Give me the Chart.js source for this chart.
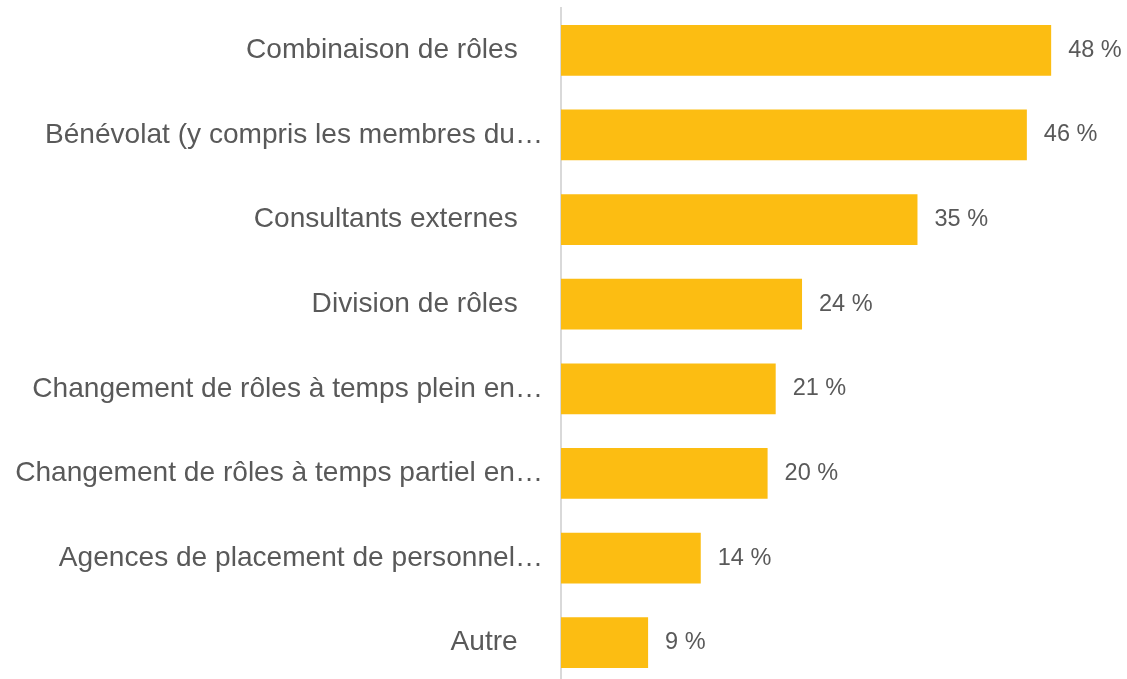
<!DOCTYPE html>
<html>
<head>
<meta charset="utf-8">
<script src="https://cdn.jsdelivr.net/npm/chart.js@4"></script>
<style>
  html, body { margin: 0; padding: 0; background: #ffffff; overflow: hidden; }
  #wrap { width: 1127px; height: 685px; position: relative; }
</style>
</head>
<body>
<div id="wrap"><canvas id="c"></canvas></div>
<script>
const categories = [
  "Combinaison de rôles\u2002\u2009\u2009",
  "Bénévolat (y compris les membres du…",
  "Consultants externes\u2002\u2009\u2009",
  "Division de rôles\u2002\u2009\u2009",
  "Changement de rôles à temps plein en…",
  "Changement de rôles à temps partiel en…",
  "Agences de placement de personnel…",
  "Autre\u2002\u2009\u2009"
];
const values = [48.4, 46.0, 35.2, 23.8, 21.2, 20.4, 13.8, 8.6];
const valueLabels = ["48 %", "46 %", "35 %", "24 %", "21 %", "20 %", "14 %", "9 %"];

const barColor = "#FCBD12";
const textColor = "#595959";

const valueLabelPlugin = {
  id: "valueLabels",
  afterDatasetsDraw(chart) {
    const ctx = chart.ctx;
    const meta = chart.getDatasetMeta(0);
    ctx.save();
    ctx.font = "23.5px 'Liberation Sans', Arial, sans-serif";
    ctx.fillStyle = textColor;
    ctx.textAlign = "left";
    ctx.textBaseline = "middle";
    meta.data.forEach((bar, i) => {
      ctx.fillText(valueLabels[i], bar.x + 17, bar.y);
    });
    ctx.restore();
  }
};

new Chart(document.getElementById("c"), {
  type: "bar",
  data: {
    labels: categories,
    datasets: [{
      data: values,
      backgroundColor: barColor,
      borderWidth: 0,
      barPercentage: 0.6,
      categoryPercentage: 1.0
    }]
  },
  options: {
    indexAxis: "y",
    responsive: true,
    maintainAspectRatio: false,
    animation: false,
    layout: { padding: { top: 8, right: 9, left: 0, bottom: 0 } },
    plugins: {
      legend: { display: false },
      tooltip: { enabled: false }
    },
    scales: {
      x: {
        display: false,
        min: 0,
        max: 55
      },
      y: {
        offset: true,
        afterFit(scale) {
          scale.width = 561;
          scale.paddingTop = 0;
          scale.paddingBottom = 0;
        },
        grid: { display: false, drawTicks: false },
        border: { display: true, color: "#d9d9d9", width: 2 },
        ticks: {
          padding: 18,
          color: textColor,
          font: { family: "'Liberation Sans', Arial, sans-serif", size: 28.1 }
        }
      }
    }
  },
  plugins: [valueLabelPlugin]
});
</script>
</body>
</html>
